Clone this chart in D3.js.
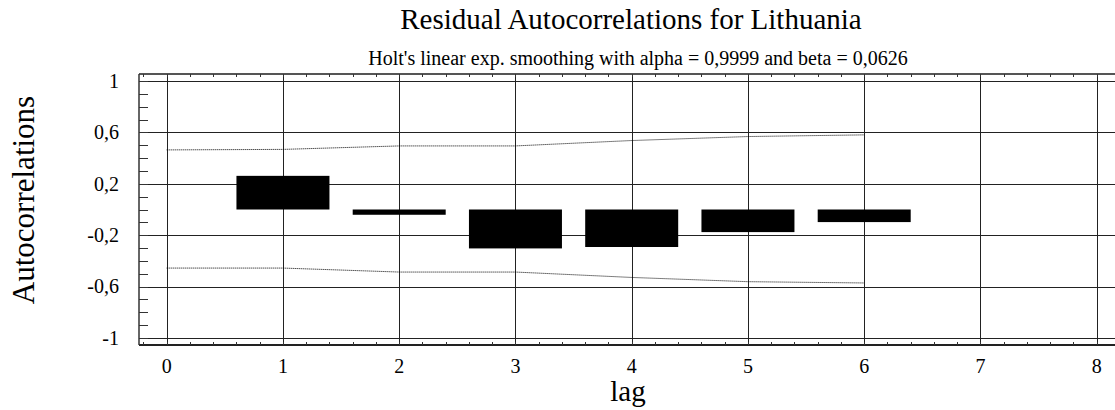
<!DOCTYPE html>
<html>
<head>
<meta charset="utf-8">
<script src="https://cdn.jsdelivr.net/npm/d3@7"></script>
<style>
body { margin: 0; background: #fff; }
text { font-family: "Liberation Serif", "Times New Roman", serif; fill: #000; }
</style>
</head>
<body>
<svg id="chart" width="1115" height="410"></svg>
<script>
// residual autocorrelations by lag
var lags = [1, 2, 3, 4, 5, 6];
var acf = [0.262, -0.041, -0.303, -0.292, -0.176, -0.098];

// 95% limits, read at lags 0..6
var limitLags = [0, 1, 2, 3, 4, 5, 6];
var upperLimit = [0.464, 0.468, 0.495, 0.495, 0.537, 0.568, 0.581];
var lowerLimit = [-0.456, -0.456, -0.487, -0.487, -0.529, -0.562, -0.572];

var xTicks = [0, 1, 2, 3, 4, 5, 6, 7, 8];
var yTicks = [1, 0.6, 0.2, -0.2, -0.6, -1];
var yTickLabels = ["1", "0,6", "0,2", "-0,2", "-0,6", "-1"];

var titleText = "Residual Autocorrelations for Lithuania";
var subtitleText = "Holt's linear exp. smoothing with alpha = 0,9999 and beta = 0,0626";

var plotLeft = 139, plotRight = 1115, plotTop = 74, plotBottom = 345;

var svg = d3.select("#chart");

var x = d3.scaleLinear().domain([0, 8]).range([166.7, 1096.7]);
var y = d3.scaleLinear().domain([-1.055, 1.055]).range([plotBottom, plotTop]);

// grid
var grid = svg.append("g");
yTicks.forEach(function (v) {
    var yy = Math.round(y(v)) + 0.5;
    grid.append("line").attr("x1", plotLeft).attr("x2", plotRight).attr("y1", yy).attr("y2", yy)
        .style("stroke", "#222").style("stroke-width", 1);
});
xTicks.forEach(function (v) {
    var xx = Math.round(x(v)) + 0.5;
    grid.append("line").attr("x1", xx).attr("x2", xx).attr("y1", plotTop).attr("y2", plotBottom)
        .style("stroke", "#222").style("stroke-width", 1);
});

// bars
svg.selectAll("rect.bar").data(lags).enter().append("rect")
    .attr("class", "bar")
    .attr("x", function (d) { return x(d - 0.4); })
    .attr("width", function (d) { return x(d + 0.4) - x(d - 0.4); })
    .attr("y", function (d, i) { return Math.min(y(acf[i]), y(0)); })
    .attr("height", function (d, i) { return Math.abs(y(acf[i]) - y(0)); })
    .style("fill", "#000");

// limit lines
var line = d3.line().x(function (d) { return x(d[0]); }).y(function (d) { return y(d[1]); });
var up = limitLags.map(function (d, i) { return [d, upperLimit[i]]; });
var lo = limitLags.map(function (d, i) { return [d, lowerLimit[i]]; });
[up, lo].forEach(function (pts) {
    svg.append("path").attr("d", line(pts))
        .style("fill", "none").style("stroke", "#000").style("stroke-width", 1)
        .style("stroke-dasharray", "1,1");
});

// frame
svg.append("line").attr("x1", plotLeft).attr("x2", plotRight).attr("y1", plotTop).attr("y2", plotTop)
    .style("stroke", "#555").style("stroke-width", 2);
svg.append("line").attr("x1", plotLeft).attr("x2", plotRight).attr("y1", plotBottom).attr("y2", plotBottom)
    .style("stroke", "#222").style("stroke-width", 2);
svg.append("line").attr("x1", plotLeft).attr("x2", plotLeft).attr("y1", plotTop).attr("y2", plotBottom)
    .style("stroke", "#333").style("stroke-width", 1.5);

// minor ticks
var yMinor = d3.range(-10, 11).map(function (d) { return d / 10; });
yMinor.forEach(function (v) {
    var yy = Math.round(y(v)) + 0.5;
    svg.append("line").attr("x1", plotLeft).attr("x2", plotLeft + 9).attr("y1", yy).attr("y2", yy)
        .style("stroke", "#333").style("stroke-width", 1);
});
var xMinor = d3.range(-1, 42).map(function (d) { return d / 5; });
xMinor.forEach(function (v) {
    var xx = Math.round(x(v)) + 0.5;
    if (xx < plotLeft || xx > plotRight) return;
    svg.append("line").attr("x1", xx).attr("x2", xx).attr("y1", plotBottom).attr("y2", plotBottom - 3)
        .style("stroke", "#333").style("stroke-width", 1);
    svg.append("line").attr("x1", xx).attr("x2", xx).attr("y1", plotTop).attr("y2", plotTop + 3)
        .style("stroke", "#333").style("stroke-width", 1);
});

// tick labels
svg.selectAll("text.xt").data(xTicks).enter().append("text")
    .attr("class", "xt")
    .attr("x", function (d) { return x(d); })
    .attr("y", 373)
    .attr("text-anchor", "middle")
    .style("font-size", "20px")
    .text(function (d) { return d; });

svg.selectAll("text.yt").data(yTicks).enter().append("text")
    .attr("class", "yt")
    .attr("x", 119)
    .attr("y", function (d) { return y(d); })
    .attr("dy", "0.34em")
    .attr("text-anchor", "end")
    .style("font-size", "20px")
    .text(function (d, i) { return yTickLabels[i]; });

// titles
svg.append("text").attr("x", 631).attr("y", 29).attr("text-anchor", "middle")
    .style("font-size", "29px").text(titleText);
svg.append("text").attr("x", 638).attr("y", 65).attr("text-anchor", "middle")
    .style("font-size", "20px").text(subtitleText);
svg.append("text").attr("x", 628).attr("y", 401).attr("text-anchor", "middle")
    .style("font-size", "29px").text("lag");
svg.append("text").attr("transform", "translate(34,200) rotate(-90)").attr("text-anchor", "middle")
    .style("font-size", "31px").text("Autocorrelations");
</script>
</body>
</html>
